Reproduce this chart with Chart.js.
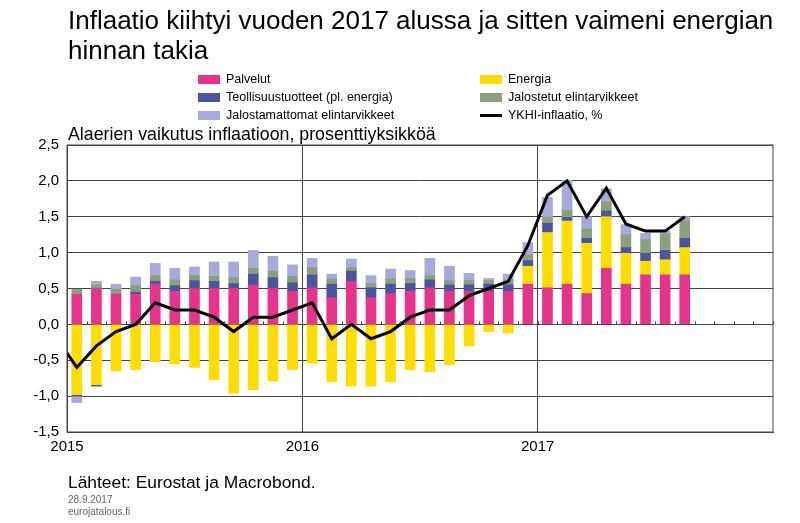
<!DOCTYPE html>
<html><head><meta charset="utf-8">
<script src="https://cdn.jsdelivr.net/npm/chart.js@4"></script>
<style>
body{margin:0;width:800px;height:523px;position:relative;font-family:"Liberation Sans",Arial,sans-serif;background:#fff;overflow:hidden}
#c{position:absolute;left:0;top:0}
.t{position:absolute;color:#000;white-space:nowrap}
.lg{position:absolute;font-size:12.5px;display:flex;align-items:center}
.sw{display:inline-block;width:22px;height:9px;margin-right:6px}
.ln{display:inline-block;width:22px;height:3px;background:#000;margin-right:6px}
</style></head><body>
<canvas id="c" width="800" height="523"></canvas>
<div class="t" style="left:68px;top:5px;font-size:26px;line-height:30px">Inflaatio kiihtyi vuoden 2017 alussa ja sitten vaimeni energian<br>hinnan takia</div>
<div class="lg" style="left:198px;top:72px"><span class="sw" style="background:#e8338a"></span>Palvelut</div>
<div class="lg" style="left:480px;top:72px"><span class="sw" style="background:#ffdd00"></span>Energia</div>
<div class="lg" style="left:198px;top:90px"><span class="sw" style="background:#4a55a2"></span>Teollisuustuotteet (pl. energia)</div>
<div class="lg" style="left:480px;top:90px"><span class="sw" style="background:#8aa07a"></span>Jalostetut elintarvikkeet</div>
<div class="lg" style="left:198px;top:108px"><span class="sw" style="background:#a6a9d9"></span>Jalostamattomat elintarvikkeet</div>
<div class="lg" style="left:480px;top:108px"><span class="ln"></span>YKHI-inflaatio, %</div>
<div class="t" style="left:68px;top:124px;font-size:17.8px">Alaerien vaikutus inflaatioon, prosenttiyksikköä</div>
<div class="t" style="left:68px;top:472px;font-size:17.4px">Lähteet: Eurostat ja Macrobond.</div>
<div class="t" style="left:68px;top:494px;font-size:10px;color:#666">28.9.2017</div>
<div class="t" style="left:68px;top:506px;font-size:10px;color:#666">eurojatalous.fi</div>
<script>
const months = Array.from({length:32},(_,i)=>i);
const palvelut = [0.42,0.50,0.42,0.42,0.56,0.46,0.50,0.50,0.50,0.55,0.50,0.46, 0.51,0.37,0.60,0.37,0.43,0.46,0.51,0.46,0.46,0.46,0.46,0.56, 0.51,0.56,0.43,0.78,0.56,0.69,0.69,0.69];
const energia = [-0.98,-0.84,-0.65,-0.63,-0.52,-0.55,-0.60,-0.77,-0.96,-0.91,-0.79,-0.63, -0.54,-0.80,-0.86,-0.86,-0.80,-0.63,-0.66,-0.56,-0.30,-0.10,-0.12,0.25, 0.77,0.88,0.70,0.72,0.43,0.19,0.21,0.38];
const teollisuus = [-0.02,-0.02,0,0.03,0.04,0.08,0.11,0.10,0.07,0.15,0.15,0.12, 0.18,0.19,0.14,0.14,0.13,0.11,0.11,0.09,0.09,0.10,0.09,0.08, 0.13,0.05,0.07,0.08,0.08,0.11,0.13,0.13];
const jalostetut = [0.07,0.05,0.07,0.09,0.08,0.08,0.07,0.07,0.08,0.08,0.09,0.09, 0.10,0.07,0.05,0.06,0.07,0.07,0.06,0.06,0.06,0.05,0.07,0.08, 0.08,0.10,0.13,0.13,0.18,0.19,0.23,0.24];
const jalostamattomat = [-0.09,0.05,0.07,0.12,0.17,0.16,0.12,0.20,0.22,0.25,0.21,0.16, 0.13,0.07,0.12,0.11,0.14,0.11,0.24,0.20,0.10,0.03,0.08,0.17, 0.28,0.42,0.17,0.18,0.14,0.09,0.04,0.06];
const lineX = [-0.5,0,1,2,3,4,5,6,7,8,9,10,11, 12,13,14,15,16,17,18,19,20,21,22,23, 24,25,26,27,28,29,30,31];
const ykhi = [-0.4,-0.6,-0.3,-0.1,0.0,0.3,0.2,0.2,0.1,-0.1,0.1,0.1,0.2, 0.3,-0.2,0.0,-0.2,-0.1,0.1,0.2,0.2,0.4,0.5,0.6,1.1, 1.8,2.0,1.5,1.9,1.4,1.3,1.3,1.5];
const yearLabels = {"-0.5":"2015","11.5":"2016","23.5":"2017"};
const yTicks = [2.5,2.0,1.5,1.0,0.5,0.0,-0.5,-1.0,-1.5];

const mk=(label,arr,color)=>({type:'bar',label,data:arr.map((v,i)=>({x:months[i],y:v})),backgroundColor:color,barThickness:10,stack:'s',order:2});
const tickPlugin={id:'tk',afterDatasetsDraw(ch){const c=ch.ctx,x=ch.scales.x,y=ch.scales.y;const y0=y.getPixelForValue(0);c.save();c.strokeStyle='#444';c.lineWidth=1;for(let m=0.5;m<36;m++){const px=Math.round(x.getPixelForValue(m))+0.5;c.beginPath();c.moveTo(px,y0);c.lineTo(px,y0-3);c.stroke();}c.restore();}};
new Chart(document.getElementById('c'),{
 data:{datasets:[
  mk('Palvelut',palvelut,'#e8338a'),
  mk('Energia',energia,'#ffdd00'),
  mk('Teollisuustuotteet (pl. energia)',teollisuus,'#4a55a2'),
  mk('Jalostetut elintarvikkeet',jalostetut,'#8aa07a'),
  mk('Jalostamattomat elintarvikkeet',jalostamattomat,'#a6a9d9'),
  {type:'line',label:'YKHI-inflaatio, %',data:lineX.map((x,i)=>({x,y:ykhi[i]})),borderColor:'#000',borderWidth:3,pointRadius:0,tension:0,order:1}
 ]},
 options:{responsive:false,animation:false,
  layout:{padding:{left:0,right:27,top:145,bottom:0}},
  plugins:{legend:{display:false},tooltip:{enabled:false}},
  scales:{
   x:{type:'linear',min:-0.5,max:35.5,stacked:true,offset:false,
    afterBuildTicks(s){s.ticks=[-0.5,11.5,23.5].map(v=>({value:v}));},
    afterFit(s){s.height=91;},
    ticks:{autoSkip:false,maxRotation:0,color:'#000',font:{family:'Liberation Sans',size:15},padding:6,callback:v=>yearLabels[String(v)]||''},
    grid:{offset:false,color:'#444',lineWidth:1,drawTicks:false},border:{color:'#444'}},
   y:{stacked:true,min:-1.5,max:2.5,
    afterBuildTicks(s){s.ticks=yTicks.map(v=>({value:v}));},
    afterFit(s){s.width=67;},
    ticks:{color:'#000',font:{family:'Liberation Sans',size:15},padding:8,callback:v=>v.toFixed(1).replace('.',',')},
    grid:{color:'#444',lineWidth:1,drawTicks:false},border:{color:'#444'}}
  }},
 plugins:[tickPlugin,{id:'frame',afterDraw(ch){const a=ch.chartArea,c=ch.ctx;c.save();c.strokeStyle='#444';c.lineWidth=1;c.strokeRect(a.left,a.top,a.right-a.left,a.bottom-a.top);c.restore();}}]
});
</script></body></html>
